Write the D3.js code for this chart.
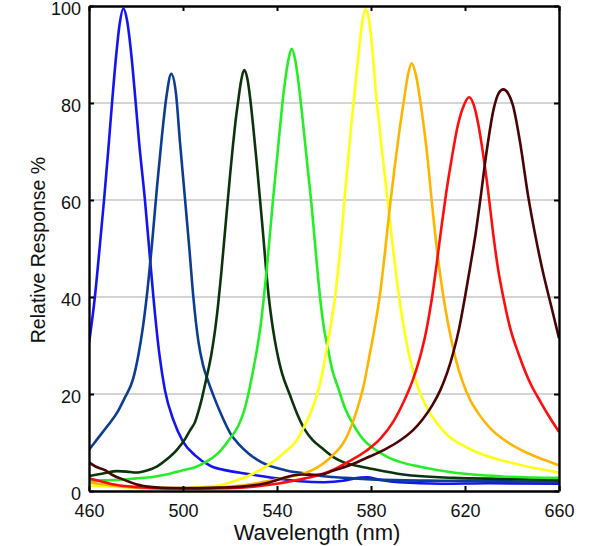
<!DOCTYPE html>
<html>
<head>
<meta charset="utf-8">
<script src="https://cdn.jsdelivr.net/npm/d3@7"></script>
<style>
  html, body { margin: 0; padding: 0; background: #fff; }
  svg { display: block; }
  text { font-family: "Liberation Sans", Arial, sans-serif; fill: #111; }
</style>
</head>
<body>
<svg id="chart" width="600" height="546"></svg>
<script>
// ---- data: [wavelength nm, relative response %] ----
const blue = [[460,30.5],[462.5,40],[464.5,50],[466.4,60],[468.2,70.3],[469.8,80],[471.6,90],[473.1,96.5],[474.6,99.5],[476.2,97],[478,90],[479.7,81],[481.3,72],[483.8,60],[485.6,50],[487.4,40],[490,28],[492.3,20.8],[496,14.5],[500,10.2],[505,7.4],[512,5.1],[519,4.2],[526.4,3.6],[533,3.1],[540,2.6],[550,2.0],[560,1.8],[568,2.1],[573,2.6],[578,2.8],[584,2.3],[592,1.8],[610,1.5],[630,1.6],[660,1.5]];
const darkBlue = [[460,8.5],[464,11],[468,13.5],[471.9,16.1],[475,19],[478.7,23],[481,28],[483,34],[485,42],[487,52],[489,63],[491,73],[493,81.5],[495,86],[497,82],[498.7,72],[500.9,60],[502.7,50],[504.4,40],[506.5,31],[508.5,26],[510.8,22.5],[513.5,19],[516.5,15.5],[520,12],[524,9.5],[528,7.7],[533.5,5.9],[543.4,4.3],[552,3.6],[557,3.2],[569,2.7],[580,2.4],[610,2.1],[635,2.0],[660,1.9]];
const darkGreen = [[460,3.1],[466,3.6],[472,4.1],[476,4.0],[480,3.8],[485,4.3],[489,5.1],[493,6.5],[497.4,8.5],[501,10.8],[503,12.5],[505.1,14.2],[506.5,16.3],[508,19],[509.4,22],[511,25.5],[512,28],[513,31],[514,34.5],[515,38.7],[516.2,44.5],[517.5,51.5],[518.7,58],[520,65],[521.2,71],[522.3,76],[523.5,80.5],[524.7,84.5],[526,86.8],[527.4,85],[528.7,80.5],[530,74.5],[531.3,68],[532.6,61],[534,53.5],[535.3,46],[536.5,40],[537.8,35],[539.1,31],[540.5,27.5],[542,24.5],[545.5,19.8],[548.5,16],[551.9,12.6],[555,10.6],[559,8.9],[564,7],[569,5.8],[575,5.1],[580,4.6],[593.6,3.4],[615,2.7],[636,2.5],[660,2.3]];
const green = [[460,2.1],[466,2.2],[472,2.3],[480,2.6],[487,2.9],[494,3.5],[500,4.3],[505.1,4.9],[509.4,5.9],[513,7],[516.5,8.6],[520,10.8],[523.5,13.4],[526,16.5],[527.8,20],[529.7,24.5],[531.4,29],[533,34],[534.2,39],[535.6,45.5],[537,53],[538.3,60],[539.5,66],[540.5,71],[542,78.5],[543.3,84],[544.7,88.5],[546.2,91.2],[547.7,89],[549.2,84],[550.5,78.5],[552,71.5],[553.4,65],[554.7,59],[556,52],[557.2,45.5],[558.3,40],[560,33.5],[561.8,29],[563.5,25],[566,21.3],[569,17],[572.5,13.7],[576.6,10.7],[581,8.8],[586.7,7.1],[593,5.9],[600.9,5],[615,3.8],[636,3],[660,2.7]];
const yellow = [[460,1.2],[470,0.9],[480,0.7],[490,0.6],[501,0.6],[510,0.9],[516,1.2],[523.5,2.3],[530,3.6],[537.7,5.8],[543,7.9],[547.7,10],[551.5,13.2],[554.8,16.7],[557,19.8],[559,23.6],[560.5,27.5],[561.8,31],[563.3,35.5],[564.7,40],[566.2,46.5],[567.5,53],[568.6,59.5],[570,67],[571.5,75],[573.2,83],[575,91.5],[576.4,97],[577.7,99.3],[579,97.5],[580.5,91.5],[582.1,82],[583.4,76],[584.7,70],[586,64.5],[587.3,59],[589,51.5],[591,43.5],[593,36.5],[596,28.5],[600,21.3],[604,17],[608,14],[613,11.3],[618,9.7],[625,8],[635,6.4],[647,5],[660,3.8]];
const orange = [[460,1.8],[470,1.1],[480,0.7],[495,0.5],[510,0.6],[520,0.9],[530,1.5],[540,2.4],[546,3.0],[552,3.7],[557,4.8],[561.8,6.5],[565,8],[567.8,9.6],[570,11.5],[572.5,14.5],[575,18.3],[577,22],[579,27],[581.5,33.5],[583.8,40.5],[586,49.5],[588,58.5],[590,66.5],[592,74],[594,80.5],[595.8,86],[597.3,88.2],[599,86],[601.1,80],[602.5,75],[603.7,70.3],[605.8,60],[608,50],[610.5,41],[613,34],[616,27.3],[619,22.5],[622,19],[626,15.8],[631,12.8],[637.7,10.2],[645,8.2],[650.6,7],[660,5.3]];
const red = [[460,2.6],[465,2],[470,1.4],[478,0.9],[490,0.6],[505,0.5],[520,0.6],[530,0.9],[540,1.5],[547,2.1],[552,2.6],[558,3.3],[564,4.4],[571,6.2],[578,8.3],[584,10.8],[589.5,14.3],[594,18.5],[597.5,22.5],[600.5,27],[603.5,33],[606,40],[608,47],[610,54.5],[612,61.5],[614.5,69],[617,75.5],[619.5,79.5],[621.7,81.2],[623.8,79.5],[625.7,75.5],[627.7,69.5],[629.8,62],[632,53],[634,46],[636.5,39.5],[639,34],[643,28],[648,22],[652,18.5],[656,15.2],[660,12.2]];
const brown = [[460,5.9],[463,5],[466.8,4.3],[470,3.3],[475,2.3],[480,1.4],[487,0.8],[495,0.6],[505,0.6],[515,0.7],[525,0.9],[532,1.3],[537,1.8],[540.4,2.3],[545,3.0],[550.5,3.4],[555,3.3],[559,3.4],[564,4.2],[572,5.5],[578,6.8],[586,8.6],[592,10.3],[598,12.6],[602,14.8],[606,17.6],[609.5,20.8],[612.5,24.5],[615,28.5],[617.5,33.5],[620,40],[622.3,46.5],[624.5,53],[626.5,60],[629.2,70],[632.3,79],[634.3,82],[636.3,82.8],[638.3,82],[640.4,79.5],[643.4,72],[646.8,61],[650,52.5],[653,45.5],[656.5,38.5],[660,31.5]];

const seriesList = [blue, darkBlue, darkGreen, green, yellow, orange, red, brown];
const seriesColors = ["#1414f2", "#0c3c94", "#0a350a", "#26ee26", "#ffff10", "#ffb400", "#ff0d0d", "#4a0404"];

const xTicks = [460, 500, 540, 580, 620, 660];
const yTicks = [0, 20, 40, 60, 80, 100];
const gridValues = [20, 40, 60, 80];

// ---- layout ----
const margin = {left: 89, top: 6, right: 41, bottom: 55};
const W = 600, H = 546;
const svg = d3.select("#chart");
const x = d3.scaleLinear().domain([460, 660]).range([margin.left, W - margin.right]);
const y = d3.scaleLinear().domain([0, 100]).range([H - margin.bottom, margin.top]);

// grid
svg.append("g").selectAll("line").data(gridValues).join("line")
  .attr("x1", x(460)).attr("x2", x(660))
  .attr("y1", d => y(d)).attr("y2", d => y(d))
  .attr("stroke", "#c6c6c6").attr("stroke-width", 1.5);

// clip
svg.append("clipPath").attr("id", "clip").append("rect")
  .attr("x", x(460)).attr("y", y(100)).attr("width", x(660) - x(460)).attr("height", y(0) - y(100));

const line = d3.line().x(d => x(d[0])).y(d => y(d[1])).curve(d3.curveMonotoneX);
svg.append("g").attr("clip-path", "url(#clip)")
  .selectAll("path").data(seriesList).join("path")
  .attr("d", line)
  .attr("fill", "none")
  .attr("stroke", (d, i) => seriesColors[i])
  .attr("stroke-width", 2.6)
  .attr("stroke-linejoin", "round");

// axes (ticks inward)
const tl = 5;
const axB = svg.append("g").attr("transform", `translate(0,${y(0)})`)
  .call(d3.axisBottom(x).tickValues(xTicks).tickSizeInner(-tl).tickSizeOuter(0).tickPadding(13));
const axT = svg.append("g").attr("transform", `translate(0,${y(100)})`)
  .call(d3.axisTop(x).tickValues(xTicks).tickSizeInner(-tl).tickSizeOuter(0).tickFormat(""));
const axL = svg.append("g").attr("transform", `translate(${x(460)},0)`)
  .call(d3.axisLeft(y).tickValues(yTicks).tickSizeInner(-tl).tickSizeOuter(0).tickPadding(8));
const axR = svg.append("g").attr("transform", `translate(${x(660)},0)`)
  .call(d3.axisRight(y).tickValues(yTicks).tickSizeInner(-tl).tickSizeOuter(0).tickFormat(""));

[axB, axT, axL, axR].forEach(a => {
  a.select(".domain").attr("stroke", "#000").attr("stroke-width", 2.4);
  a.selectAll(".tick line").attr("stroke", "#000").attr("stroke-width", 2);
  a.selectAll(".tick text").attr("font-size", 18).attr("fill", "#111")
    .attr("font-family", "'Liberation Sans', Arial, sans-serif");
});
axL.selectAll(".tick text").attr("dy", "0.45em");

// axis titles
svg.append("text").attr("x", 317).attr("y", 540).attr("text-anchor", "middle")
  .attr("font-size", 22).text("Wavelength (nm)");
svg.append("text").attr("transform", `translate(45,${250}) rotate(-90)`)
  .attr("text-anchor", "middle").attr("font-size", 19.5).text("Relative Response %");
</script>
</body>
</html>
